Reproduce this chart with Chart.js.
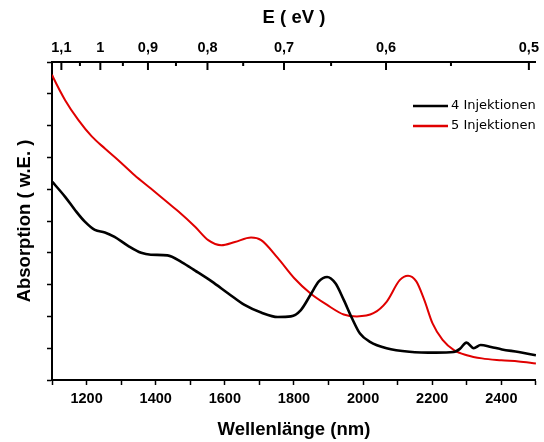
<!DOCTYPE html>
<html lang="de">
<head>
<meta charset="utf-8">
<script src="https://cdn.jsdelivr.net/npm/chart.js@4.4.0/dist/chart.umd.min.js"></script>
<style>
  body { margin: 0; background: #fff; }
  #wrap { width: 544px; height: 442px; }
</style>
</head>
<body>
<div id="wrap"><canvas id="absChart"></canvas></div>
<script>
// 4 Injektionen (black)
const blackNm  = [1100, 1105, 1138, 1167, 1195, 1224, 1253, 1281, 1320, 1358, 1386, 1434, 1476, 1514, 1562, 1610, 1657, 1705, 1753, 1791, 1820, 1848, 1872, 1896, 1920, 1944, 1968, 1991, 2020, 2068, 2134, 2211, 2262, 2280, 2299, 2320, 2340, 2370, 2402, 2450, 2488, 2500];
const blackAbs = [3.12, 3.09, 2.88, 2.67, 2.49, 2.36, 2.32, 2.25, 2.11, 2.00, 1.97, 1.96, 1.85, 1.72, 1.55, 1.36, 1.18, 1.06, 0.99, 1.00, 1.10, 1.34, 1.55, 1.62, 1.52, 1.26, 0.97, 0.73, 0.60, 0.50, 0.445, 0.43, 0.44, 0.49, 0.587, 0.50, 0.55, 0.52, 0.48, 0.44, 0.40, 0.39];

// 5 Injektionen (red)
const redNm  = [1100, 1105, 1138, 1176, 1215, 1253, 1291, 1339, 1386, 1439, 1466, 1514, 1552, 1590, 1629, 1676, 1705, 1753, 1801, 1848, 1896, 1944, 1982, 2030, 2068, 2106, 2130, 2154, 2177, 2201, 2230, 2263, 2300, 2344, 2400, 2450, 2500];
const redAbs = [4.80, 4.74, 4.40, 4.09, 3.83, 3.64, 3.46, 3.22, 3.01, 2.77, 2.65, 2.41, 2.20, 2.12, 2.17, 2.24, 2.20, 1.92, 1.60, 1.36, 1.18, 1.03, 1.00, 1.05, 1.23, 1.57, 1.64, 1.55, 1.26, 0.89, 0.63, 0.47, 0.39, 0.34, 0.31, 0.29, 0.26];

const seriesNames = ['4 Injektionen', '5 Injektionen'];

// top axis: photon energy in eV
const HC = 1239.84;
const topEnergies = [1.1, 1.05, 1.0, 0.95, 0.9, 0.85, 0.8, 0.75, 0.7, 0.65, 0.6, 0.55, 0.5];
const topLabels   = ['1,1', '', '1', '', '0,9', '', '0,8', '', '0,7', '', '0,6', '', '0,5'];

const toPoints = (xs, ys) => xs.map((x, i) => ({x: x, y: ys[i]}));

// inward tick marks on the top energy axis + small legend in the plot
const extras = {
    id: 'extras',
    afterDraw(chart) {
        const c = chart.ctx;
        const area = chart.chartArea;
        const top = chart.scales.x2;
        c.save();
        c.strokeStyle = '#000';
        c.lineWidth = 2;
        top.ticks.forEach((t, i) => {
            const px = top.getPixelForValue(t.value);
            const len = topLabels[i] ? 8 : 4;
            c.beginPath();
            c.moveTo(px, area.top);
            c.lineTo(px, area.top + len);
            c.stroke();
        });

        const colors = ['#000000', '#e00000'];
        c.font = '13px "DejaVu Sans"';
        c.textBaseline = 'middle';
        c.fillStyle = '#000';
        seriesNames.forEach((name, i) => {
            const y = 106 + i * 20;
            c.strokeStyle = colors[i];
            c.lineWidth = 2.5;
            c.beginPath();
            c.moveTo(413, y);
            c.lineTo(448, y);
            c.stroke();
            c.fillText(name, 451, y);
        });
        c.restore();
    }
};

const tickFont = {family: '"Liberation Sans", Arial, sans-serif', size: 14.5, weight: 'bold'};
const titleFont = {family: '"Liberation Sans", Arial, sans-serif', size: 18.5, weight: 'bold'};

new Chart(document.getElementById('absChart'), {
    type: 'line',
    data: {
        datasets: [
            {
                label: seriesNames[0],
                data: toPoints(blackNm, blackAbs),
                borderColor: '#000000',
                borderWidth: 2.6,
                pointRadius: 0,
                cubicInterpolationMode: 'monotone'
            },
            {
                label: seriesNames[1],
                data: toPoints(redNm, redAbs),
                borderColor: '#e00000',
                borderWidth: 2,
                pointRadius: 0,
                cubicInterpolationMode: 'monotone'
            }
        ]
    },
    options: {
        responsive: true,
        maintainAspectRatio: false,
        animation: false,
        layout: {padding: {left: 0, right: 3, top: 0, bottom: 0}},
        plugins: {
            legend: {display: false},
            tooltip: {enabled: false}
        },
        scales: {
            x: {
                type: 'linear',
                position: 'bottom',
                min: 1100,
                max: 2500,
                afterFit: s => { s.height = 62; },
                border: {color: '#000', width: 2},
                grid: {drawOnChartArea: false, tickLength: 5, tickColor: '#000', tickWidth: 1.5},
                ticks: {
                    stepSize: 100,
                    autoSkip: false,
                    maxRotation: 0,
                    color: '#000',
                    font: tickFont,
                    padding: 5,
                    callback: v => (v % 200 === 0 ? String(v) : '')
                },
                title: {display: true, text: 'Wellenlänge (nm)', color: '#000', font: titleFont, padding: {top: 0, bottom: 1}}
            },
            x2: {
                type: 'linear',
                position: 'top',
                min: 1100,
                max: 2500,
                afterFit: s => { s.height = 62; },
                afterBuildTicks: s => { s.ticks = topEnergies.map(e => ({value: HC / e})); },
                border: {color: '#000', width: 2},
                grid: {drawOnChartArea: false, drawTicks: false},
                ticks: {
                    autoSkip: false,
                    maxRotation: 0,
                    color: '#000',
                    font: tickFont,
                    padding: 5,
                    callback: (v, i) => topLabels[i]
                },
                title: {display: true, text: 'E ( eV )', color: '#000', font: titleFont, padding: {top: 7, bottom: 0}}
            },
            y: {
                min: 0,
                max: 5,
                afterFit: s => { s.width = 52; },
                border: {color: '#000', width: 2},
                grid: {drawOnChartArea: false, tickLength: 5, tickColor: '#000', tickWidth: 1.5},
                ticks: {stepSize: 0.5, display: false},
                title: {display: true, text: 'Absorption ( w.E. )', color: '#000', font: titleFont, padding: {top: 14, bottom: 0}}
            }
        }
    },
    plugins: [extras]
});
</script>
</body>
</html>
